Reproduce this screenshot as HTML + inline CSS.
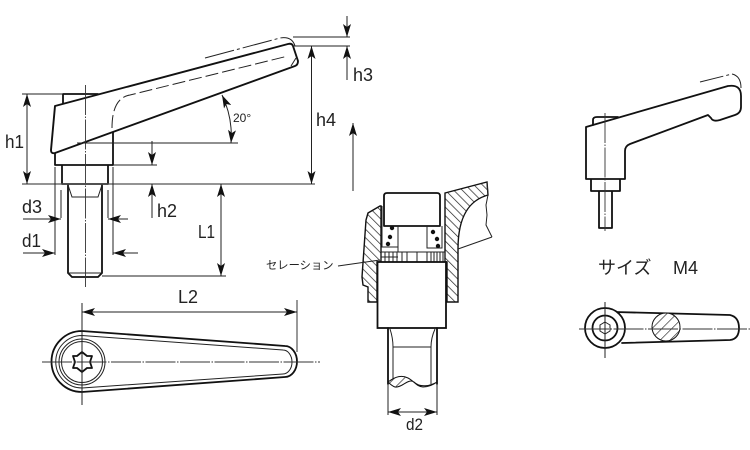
<!DOCTYPE html>
<html><head><meta charset="utf-8"><style>
html,body{margin:0;padding:0;background:#fff}
svg{display:block}
text{font-family:"Liberation Sans","Noto Sans CJK JP",sans-serif;fill:#222}
.o{fill:none;stroke:#111;stroke-width:1.8;stroke-linejoin:round;stroke-linecap:round}
.t{fill:none;stroke:#222;stroke-width:1}
.b{fill:none;stroke:#555;stroke-width:1.2}
.c{fill:none;stroke:#333;stroke-width:.9;stroke-dasharray:30 1.500 1.500 1.500}
</style></head><body>
<svg width="750" height="450" viewBox="0 0 750 450" xmlns="http://www.w3.org/2000/svg">
<defs>
<pattern id="h" width="6" height="6" patternUnits="userSpaceOnUse" patternTransform="rotate(-45)"><rect width="6" height="6" fill="#fff"/><line x1="0" y1="0" x2="0" y2="6" stroke="#222" stroke-width="1.400"/></pattern>
<pattern id="g" width="7" height="7" patternUnits="userSpaceOnUse" patternTransform="rotate(45)"><rect width="7" height="7" fill="#fff"/><line x1="0" y1="0" x2="0" y2="7" stroke="#222" stroke-width="1.300"/></pattern>
<marker id="a" viewBox="0 0 13 8" refX="13" refY="4" markerWidth="13" markerHeight="8" markerUnits="userSpaceOnUse" orient="auto-start-reverse"><path d="M0 0L13 4L0 8L3 4Z" fill="#111"/></marker>
</defs>

<!-- main side view -->
<path class="o" d="M63 103V94H98"/>
<path class="o" d="M55 165V153M55 165H113V132M62 165V184H108V165M68 184V273L72 277H98L102 273V184"/>
<path class="t" d="M68 185L72 197H98L102 185M68 273H102"/>
<path d="M55 106L288 44Q292 43 293 46L298 61Q298 65 295 66L55 153Q51 154 51 150Z" fill="#fff" stroke="#111" stroke-width="1.900" stroke-linejoin="round"/>
<path class="t" d="M112 128C112 108 118 97 130 95L288 56" stroke-dasharray="13 4"/>
<path class="t" d="M296 58L291 66"/>
<path class="t" d="M205 58L280 38Q292 36 295 46" stroke-dasharray="30 3 3 3"/>
<path class="c" d="M85.500 85V287"/>
<!-- dimensions -->
<path class="b" d="M22 184H315"/>
<path class="t" d="M22 94H63M77 143H238M113 165H157M102 276H226M293 37H350M293 46H350M61 190V218M108 190V218M55 167V255M113 167V255"/>
<path class="t" marker-start="url(#a)" marker-end="url(#a)" d="M27 94V184"/>
<path class="t" marker-start="url(#a)" marker-end="url(#a)" d="M311.500 46V184"/>
<path class="t" marker-start="url(#a)" marker-end="url(#a)" d="M221 184V276"/>
<path class="t" marker-end="url(#a)" d="M152 141V165"/>
<path class="t" marker-end="url(#a)" d="M152 218V184"/>
<path class="t" marker-end="url(#a)" d="M347 16V37"/>
<path class="t" marker-end="url(#a)" d="M347 80V46"/>
<path class="t" marker-end="url(#a)" d="M353 191V123"/>
<path class="t" marker-end="url(#a)" d="M23 219H61"/>
<path class="t" marker-end="url(#a)" d="M128 219H108"/>
<path class="t" marker-end="url(#a)" d="M23 253H55"/>
<path class="t" marker-end="url(#a)" d="M138 253H113"/>
<path class="t" marker-start="url(#a)" marker-end="url(#a)" d="M222 95Q233 118 231 143"/>
<g font-size="18.500">
<text x="5" y="148" textLength="19" lengthAdjust="spacingAndGlyphs">h1</text>
<text x="157" y="217" textLength="20" lengthAdjust="spacingAndGlyphs">h2</text>
<text x="353" y="81" textLength="20" lengthAdjust="spacingAndGlyphs">h3</text>
<text x="316" y="126" textLength="20" lengthAdjust="spacingAndGlyphs">h4</text>
<text x="22" y="213" textLength="20" lengthAdjust="spacingAndGlyphs">d3</text>
<text x="22" y="247" textLength="19" lengthAdjust="spacingAndGlyphs">d1</text>
<text x="198" y="238" textLength="17" lengthAdjust="spacingAndGlyphs">L1</text>
<text x="178" y="303" textLength="20" lengthAdjust="spacingAndGlyphs">L2</text>
</g>
<text x="233" y="122" font-size="12">20°</text>

<!-- top view -->
<path class="o" d="M82 331L285 346A12 15.500 0 0 1 285 377L82 392A30.500 30.500 0 0 1 82 331Z"/>
<path class="t" stroke-width="1.400" d="M82 335.500L283 350A9 12 0 0 1 283 374L82 388A26.250 26.250 0 0 1 82 335.500Z"/>
<circle class="t" cx="82" cy="362" r="23"/><circle class="t" cx="82" cy="362" r="20.500"/>
<path class="o" d="M82 352L87 356L92 356L90 362L92 368L87 368L82 372L77 368L73 368L75 362L73 356L77 356Z"/>
<path class="c" d="M42 362H320"/>
<path class="t" d="M82 303V405"/>
<path class="b" d="M297 300V352"/>
<path class="t" marker-start="url(#a)" marker-end="url(#a)" d="M82 312H297"/>

<!-- section view -->
<path d="M380 206L368 213L366 220L362 277L363 285L368 287V302H377V262H381V206Z" fill="url(#h)" stroke="#111" stroke-width="1.400"/>
<path d="M445 193L487 182L488 195C470 200 458 215 458 249V302H447V262H445Z" fill="url(#h)" stroke="#111" stroke-width="1.400"/>
<path class="t" stroke-width="1.300" d="M458 249L492 237M487 182L488 195L486 205L487 215L486 225L492 237"/>
<path class="o" d="M384 226V196Q384 193 387 193H437Q440 193 440 196V226Z"/>
<path class="t" stroke-width="1.300" d="M382 206V247H398V226M398 226V252M427 226V248H442V226M381 252H445V262H381Z"/>
<path class="t" d="M385 252V262M389 252V262M393 252V262M397 252V262M402 252V262M407 252V262M417 252V262M427 252V262M431 252V262M434 252V262M437 252V262M440 252V262M443 252V262M381 257H398"/>
<g fill="#111"><circle cx="392" cy="228" r="2.200"/><circle cx="390" cy="237" r="2.200"/><circle cx="388" cy="244" r="2.200"/><circle cx="433" cy="232" r="2.200"/><circle cx="437" cy="239" r="2.200"/><circle cx="438" cy="246" r="2.200"/></g>
<rect x="377.500" y="262" width="68.500" height="66" fill="#fff" stroke="#111" stroke-width="1.800"/>
<path class="o" d="M388 328V384M437 328V384"/>
<path class="t" d="M390 329Q393 338 393 347V379M435 329Q431 338 431 347V384M393 347H431"/>
<path d="M388 382C396 376 402 375 408 378C414 381 417 387 423 387C429 387 433 385 437 382C430 386 420 388 414 382C408 378 402 388 395 387C392 386 390 384 388 382Z" fill="url(#g)" stroke="#111" stroke-width="1"/>
<path class="t" d="M388 384V415M437 384V415M338 266L380 260"/>
<path class="t" marker-start="url(#a)" marker-end="url(#a)" d="M388 412H437"/>
<text x="406" y="430" font-size="17" textLength="17" lengthAdjust="spacingAndGlyphs">d2</text>
<text x="266" y="269" font-size="11.300">セレーション</text>

<!-- small side view -->
<path class="o" d="M593 125V120Q593 117 597 117H618"/>
<path class="o" d="M586 127L728 86Q741 84 741 96V107Q741 113 735 115L720 120Q713 122 711 118L708 115L630 144Q625 146 625 151V179H586ZM591 179V191H620V179M599 191V228H612V191"/>
<path class="c" d="M605 113V231"/>
<path class="t" d="M700 82L732 74Q741 76 741 88" stroke-dasharray="24 3 3 3"/>

<!-- small top view -->
<path class="o" d="M615 312L730 315Q739 317 739 328Q739 339 730 340L622 343"/>
<circle cx="666" cy="327" r="14" fill="url(#g)" stroke="#111" stroke-width="1"/>
<circle cx="605" cy="328" r="20" fill="#fff" stroke="#111" stroke-width="1.800"/>
<circle cx="605" cy="328" r="12.500" class="o"/>
<path class="t" stroke-width="1.600" d="M605 322L610 325L610 331L605 334L600 331L600 325Z"/>
<path class="c" d="M579 329H750"/>
<path class="t" d="M605 302V358"/>
<text x="598" y="274" font-size="18">サイズ</text>
<text x="673" y="274" font-size="18">M4</text>
</svg>
</body></html>
